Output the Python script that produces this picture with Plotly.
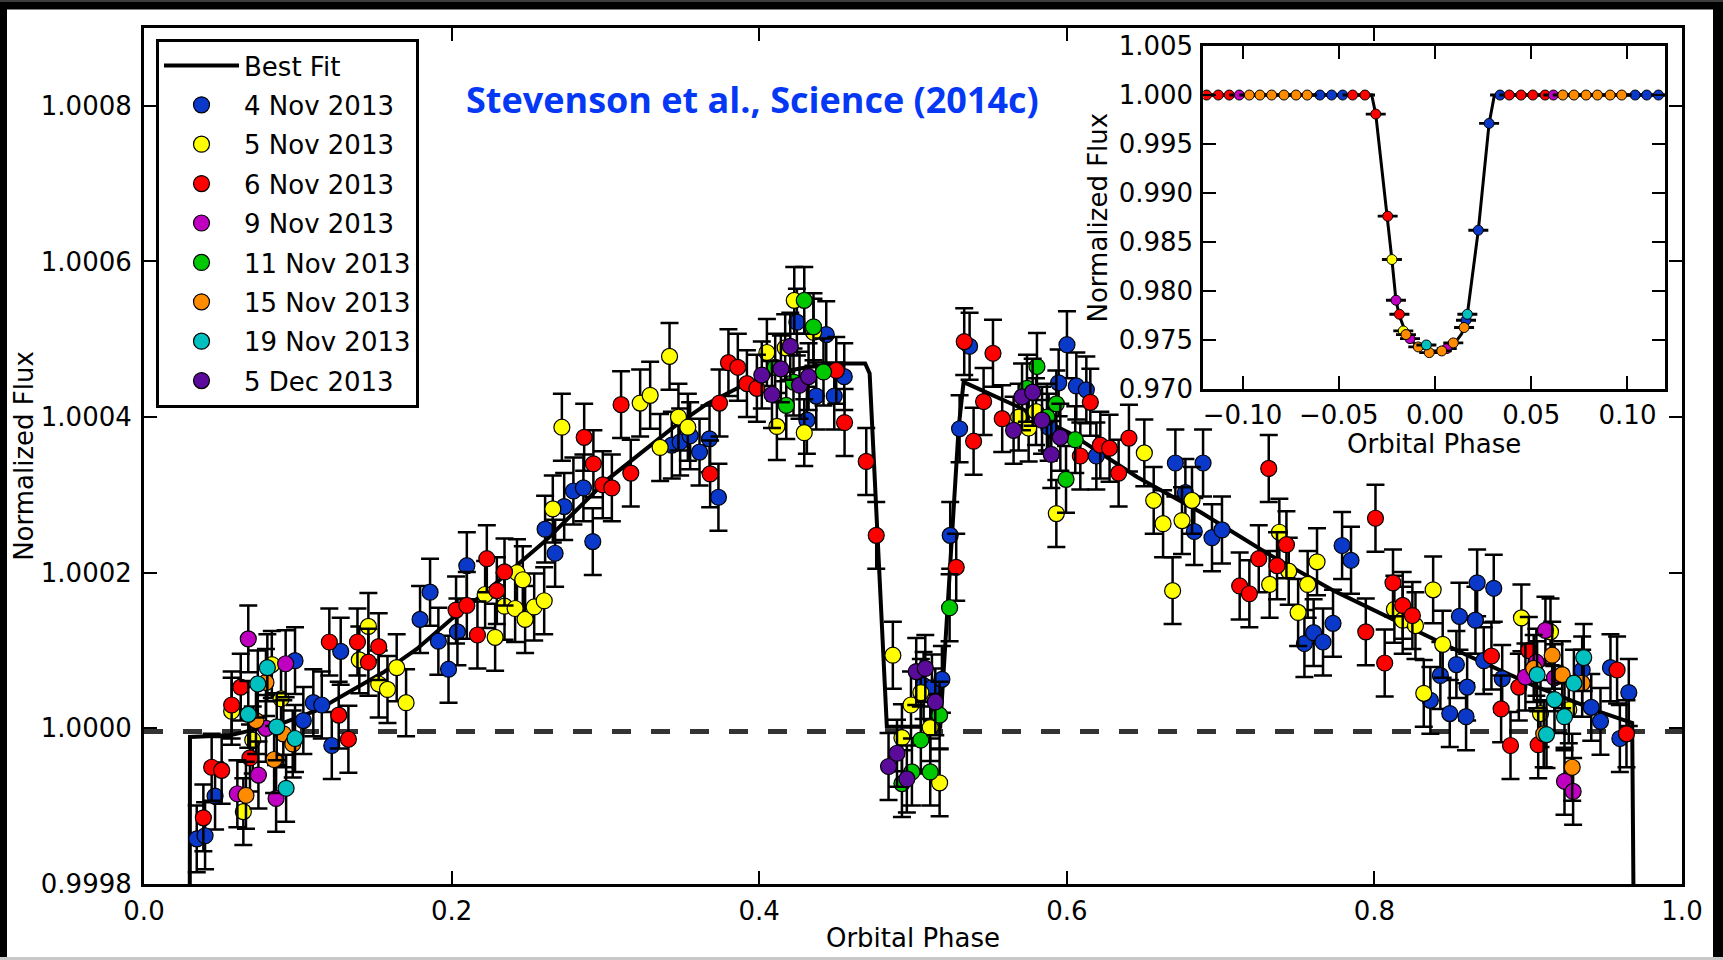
import plotly.graph_objects as go

# ---------------- main panel: best-fit model ----------------
fit_phase = [0.0297, 0.0299, 0.056, 0.069, 0.0906, 0.1123, 0.134, 0.1557, 0.1774, 0.199,
             0.2207, 0.2424, 0.2610, 0.3009, 0.3226, 0.3443, 0.366, 0.3876, 0.4093, 0.431,
             0.4527, 0.4689, 0.4718, 0.4743, 0.4765, 0.483, 0.5177, 0.5242, 0.5297, 0.5329,
             0.5676, 0.6023, 0.6457, 0.6868, 0.7302, 0.7735, 0.8168, 0.8602, 0.9036, 0.947,
             0.9676, 0.9688]
fit_flux = [0.99970, 0.999989, 0.999991, 0.999997, 1.000007, 1.000023, 1.000047, 1.000072,
            1.000102, 1.000139, 1.000173, 1.000210, 1.000241, 1.000319, 1.000353, 1.000387,
            1.000417, 1.000439, 1.000456, 1.000464, 1.000469, 1.000469, 1.000456, 1.000357,
            1.000246, 1.000002, 1.000002, 1.000207, 1.000387, 1.000445, 1.000414, 1.000379,
            1.000323, 1.000278, 1.000225, 1.000177, 1.000135, 1.000094, 1.000055, 1.000021,
            1.000007, 0.99970]

baseline_phase = [0.0, 1.0]
baseline_flux = [0.999996, 0.999996]

# ---------------- main panel: observations ----------------
nov04_phase = [0.0343, 0.0397, 0.0462, 0.0982, 0.1036, 0.1101, 0.1156, 0.1221, 0.1279, 0.1795,
               0.186, 0.1914, 0.198, 0.2038, 0.2099, 0.2608, 0.2673, 0.2732, 0.2792, 0.2857,
               0.2918, 0.3432, 0.3486, 0.3551, 0.3612, 0.3677, 0.3735, 0.4245, 0.431, 0.4371,
               0.4436, 0.4488, 0.4553, 0.5069, 0.5123, 0.5188, 0.5242, 0.5303, 0.5368, 0.5882,
               0.5947, 0.6001, 0.6062, 0.6127, 0.6192, 0.6706, 0.6771, 0.6829, 0.6886, 0.6944,
               0.7009, 0.7545, 0.7605, 0.7666, 0.7731, 0.779, 0.7848, 0.8364, 0.8429, 0.849,
               0.8533, 0.8553, 0.8596, 0.8603, 0.8657, 0.8668, 0.8711, 0.8776, 0.8831, 0.9351,
               0.941, 0.947, 0.9535, 0.9596, 0.9654]
nov04_flux = [0.999858, 0.999862, 0.999913, 1.000087, 1.000010, 1.000033, 1.000030, 0.999978,
              1.000099, 1.000140, 1.000175, 1.000112, 1.000076, 1.000124, 1.000209, 1.000256,
              1.000225, 1.000285, 1.000305, 1.000309, 1.000240, 1.000364, 1.000368, 1.000376,
              1.000355, 1.000372, 1.000297, 1.000522, 1.000396, 1.000427, 1.000506, 1.000427,
              1.000452, 1.000055, 1.000052, 1.000063, 1.000248, 1.000385, 1.000491, 1.000387,
              1.000444, 1.000493, 1.000440, 1.000435, 1.000350, 1.000341, 1.000303, 1.000253,
              1.000341, 1.000245, 1.000255, 1.000109, 1.000123, 1.000111, 1.000135, 1.000235,
              1.000216, 1.000036, 1.000068, 1.000019, 1.000082, 1.000144, 1.000015, 1.000053,
              1.000139, 1.000187, 1.000087, 1.000180, 1.000064, 1.000075, 1.000027, 1.000009,
              1.000078, 0.999987, 1.000046]

nov05_phase = [0.057, 0.0646, 0.0707, 0.0831, 0.0891, 0.14, 0.1459, 0.1526, 0.1583, 0.1643,
               0.1704, 0.2218, 0.2283, 0.2344, 0.2413, 0.2425, 0.2463, 0.2478, 0.2537, 0.2602,
               0.2658, 0.2717, 0.3226, 0.3291, 0.3356, 0.3417, 0.3475, 0.3536, 0.405, 0.4115,
               0.4169, 0.4228, 0.4293, 0.4353, 0.4869, 0.4928, 0.4987, 0.5051, 0.5112, 0.5173,
               0.5687, 0.5752, 0.58, 0.5932, 0.6504, 0.6565, 0.6626, 0.6688, 0.6749, 0.6814,
               0.7319, 0.7382, 0.7443, 0.7504, 0.7566, 0.7627, 0.813, 0.8184, 0.8267, 0.8321,
               0.8382, 0.8444, 0.8956, 0.908, 0.9145, 0.9264]
nov05_flux = [1.000022, 0.999893, 0.999985, 1.000082, 1.000038, 1.000088, 1.000131, 1.000057,
              1.000050, 1.000078, 1.000033, 1.000172, 1.000117, 1.000157, 1.000154, 1.000200,
              1.000191, 1.000140, 1.000156, 1.000164, 1.000282, 1.000387, 1.000418, 1.000428,
              1.000361, 1.000478, 1.000400, 1.000387, 1.000483, 1.000388, 1.000489, 1.000550,
              1.000380, 1.000509, 1.000094, 0.999988, 1.000030, 1.000046, 1.000001, 0.999930,
              1.000400, 1.000386, 1.000407, 1.000276, 1.000354, 1.000293, 1.000263, 1.000177,
              1.000267, 1.000293, 1.000185, 1.000252, 1.000202, 1.000149, 1.000185, 1.000214,
              1.000153, 1.000139, 1.000132, 1.000045, 1.000178, 1.000108, 1.000142, 1.000019,
              1.000124, 1.000024]

nov06_phase = [0.0386, 0.044, 0.0505, 0.057, 0.0629, 0.0689, 0.1205, 0.1266, 0.1329, 0.1388,
               0.1459, 0.1526, 0.2029, 0.2099, 0.2168, 0.2229, 0.2294, 0.2344, 0.2862, 0.2922,
               0.2983, 0.3042, 0.3102, 0.3165, 0.3681, 0.3742, 0.38, 0.3861, 0.392, 0.3985,
               0.4501, 0.4555, 0.4696, 0.4761, 0.5281, 0.5333, 0.5394, 0.5459, 0.552, 0.558,
               0.6088, 0.6153, 0.6218, 0.6278, 0.6337, 0.6404, 0.7124, 0.7187, 0.7248, 0.7313,
               0.7367, 0.7428, 0.7944, 0.8007, 0.8067, 0.8121, 0.8184, 0.8247, 0.8761, 0.8824,
               0.8885, 0.8939, 0.9004, 0.9065, 0.9578, 0.9639]
nov06_flux = [0.999885, 0.999950, 0.999946, 1.000030, 1.000053, 0.999962, 1.000111, 1.000017,
              0.999986, 1.000111, 1.000085, 1.000105, 1.000152, 1.000158, 1.000120, 1.000218,
              1.000177, 1.000201, 1.000374, 1.000340, 1.000313, 1.000309, 1.000416, 1.000328,
              1.000327, 1.000418, 1.000470, 1.000464, 1.000443, 1.000437, 1.000460, 1.000393,
              1.000343, 1.000248, 1.000207, 1.000497, 1.000369, 1.000420, 1.000482, 1.000398,
              1.000350, 1.000419, 1.000364, 1.000360, 1.000328, 1.000373, 1.000183, 1.000173,
              1.000218, 1.000334, 1.000209, 1.000236, 1.000124, 1.000270, 1.000084, 1.000187,
              1.000158, 1.000145, 1.000093, 1.000025, 0.999978, 1.000053, 1.000100, 0.999979,
              1.000075, 0.999993]

nov09_phase = [0.0607, 0.0678, 0.0744, 0.0793, 0.0859, 0.0921, 0.8982, 0.9053, 0.9112, 0.9171,
               0.9236, 0.9292]
nov09_flux = [0.999916, 1.000115, 0.999940, 1.000000, 0.999910, 1.000083, 1.000066, 1.000085,
              1.000126, 1.000065, 0.999932, 0.999919]

nov11_phase = [0.4104, 0.4176, 0.4223, 0.4293, 0.4353, 0.4418, 0.4928, 0.4993, 0.5051, 0.5112,
               0.5173, 0.5238, 0.5741, 0.5806, 0.5871, 0.5932, 0.5995, 0.6055]
nov11_flux = [1.000464, 1.000415, 1.000445, 1.000550, 1.000516, 1.000458, 0.999929, 0.999944,
              0.999985, 0.999944, 1.000017, 1.000155, 1.000437, 1.000465, 1.000400, 1.000417,
              1.000320, 1.000371]

nov15_phase = [0.0663, 0.0728, 0.0793, 0.0846, 0.0906, 0.0967, 0.9036, 0.9101, 0.9156, 0.9221,
               0.9286, 0.9351]
nov15_flux = [0.999914, 1.000010, 1.000059, 0.999960, 0.999993, 0.999980, 1.000077, 0.999993,
              1.000094, 1.000069, 0.999950, 1.000058]

nov19_phase = [0.0678, 0.074, 0.0802, 0.0863, 0.0924, 0.0982, 0.9058, 0.9119, 0.9171, 0.9236,
               0.9297, 0.9361]
nov19_flux = [1.000018, 1.000057, 1.000078, 1.000002, 0.999923, 0.999987, 1.000069, 0.999992,
              1.000037, 1.000015, 1.000058, 1.000091]

dec05_phase = [0.4017, 0.4083, 0.4141, 0.4202, 0.4262, 0.4321, 0.4841, 0.4896, 0.496, 0.5021,
               0.508, 0.5145, 0.5654, 0.5709, 0.5778, 0.5839, 0.5899, 0.5958]
dec05_flux = [1.000454, 1.000429, 1.000462, 1.000491, 1.000441, 1.000452, 0.999951, 0.999968,
              0.999935, 1.000073, 1.000077, 1.000034, 1.000383, 1.000426, 1.000432, 1.000396,
              1.000352, 1.000374]

series_names = ["4 Nov 2013", "5 Nov 2013", "6 Nov 2013", "9 Nov 2013",
                "11 Nov 2013", "15 Nov 2013", "19 Nov 2013", "5 Dec 2013"]
series_colors = ["#0a38c8", "#ffff00", "#ff0000", "#c000c0",
                 "#00c800", "#ff8c00", "#00c0c0", "#5b0b99"]
series_err = [43e-6, 43e-6, 43e-6, 43e-6, 43e-6, 43e-6, 43e-6, 43e-6]
main_phase = [nov04_phase, nov05_phase, nov06_phase, nov09_phase,
              nov11_phase, nov15_phase, nov19_phase, dec05_phase]
main_flux = [nov04_flux, nov05_flux, nov06_flux, nov09_flux,
             nov11_flux, nov15_flux, nov19_flux, dec05_flux]

# ---------------- inset: transit ----------------
inset_fit_phase = [-0.125, -0.0329, -0.0308, -0.0277, -0.0246, -0.0224, -0.0203, -0.0185,
                   -0.0147, -0.0095, 0.0, 0.0095, 0.0139, 0.0168, 0.0225, 0.0281, 0.0307,
                   0.032, 0.125]
inset_fit_flux = [1.0, 1.0, 0.99806, 0.99268, 0.98765, 0.98323, 0.97908, 0.9775, 0.97551,
                  0.97442, 0.97381, 0.97449, 0.97568, 0.97765, 0.98622, 0.99711, 0.99983,
                  1.0, 1.0]

in_blue_phase = [-0.0598, -0.0537, -0.048, 0.0161, 0.0225, 0.0281, 0.0338, 0.104, 0.11, 0.1161]
in_blue_flux = [1.0, 1.0, 1.0, 0.97704, 0.98622, 0.99711, 1.0, 1.0, 1.0, 1.0]
in_yellow_phase = [-0.0224, -0.0165]
in_yellow_flux = [0.98323, 0.97595]
in_red_phase = [-0.1187, -0.1126, -0.1069, -0.0428, -0.0364, -0.0308, -0.0246, -0.0185,
                0.0386, 0.0447, 0.0508, 0.0572]
in_red_flux = [1.0, 1.0, 1.0, 1.0, 1.0, 0.99806, 0.98765, 0.97765, 1.0, 1.0, 1.0, 1.0]
in_mag_phase = [-0.1017, -0.0203, -0.013, 0.0061, 0.0615]
in_mag_flux = [1.0, 0.97908, 0.97517, 0.97415, 1.0]
in_green_phase = []
in_green_flux = []
in_orange_phase = [-0.0965, -0.091, -0.0849, -0.0785, -0.0722, -0.0664, -0.0151, -0.0087,
                   -0.003, 0.0035, 0.0095, 0.0151, 0.0664, 0.0722, 0.0785, 0.0844, 0.091, 0.097]
in_orange_flux = [1.0, 1.0, 1.0, 1.0, 1.0, 1.0, 0.97558, 0.97432, 0.97374, 0.97391, 0.97473,
                  0.9763, 1.0, 1.0, 1.0, 1.0, 1.0, 1.0]
in_cyan_phase = [-0.0045, 0.0168]
in_cyan_flux = [0.97452, 0.97765]
in_purple_phase = []
in_purple_flux = []
inset_phase = [in_blue_phase, in_yellow_phase, in_red_phase, in_mag_phase,
               in_green_phase, in_orange_phase, in_cyan_phase, in_purple_phase]
inset_flux = [in_blue_flux, in_yellow_flux, in_red_flux, in_mag_flux,
              in_green_flux, in_orange_flux, in_cyan_flux, in_purple_flux]

# ---------------- layout geometry (pixels) ----------------
W, H = 1723, 960
ML, MR, MT, MB = 144, 41, 28, 76
PW, PH = W - ML - MR, H - MT - MB


def px(x):
    return (x - ML) / PW


def py(y):
    return (H - MB - y) / PH


FONT = "DejaVu Sans"
fig = go.Figure()

fig.add_trace(go.Scatter(x=baseline_phase, y=baseline_flux, mode="lines",
                         line=dict(color="#333333", width=5, dash="19px,20px"),
                         showlegend=False, hoverinfo="skip"))
fig.add_trace(go.Scatter(x=fit_phase, y=fit_flux, mode="lines", name="Best Fit",
                         legendgroup="fit", line=dict(color="black", width=4)))
for name, col, xs, ys, err in zip(series_names, series_colors, main_phase, main_flux, series_err):
    fig.add_trace(go.Scatter(
        x=xs, y=ys, mode="markers", name=name, legendgroup=name,
        marker=dict(color=col, size=16, line=dict(color="black", width=1.2)),
        error_y=dict(type="constant", value=err, color="black", thickness=2.5, width=9)))

fig.add_trace(go.Scatter(x=inset_fit_phase, y=inset_fit_flux, mode="lines",
                         xaxis="x2", yaxis="y2", showlegend=False,
                         line=dict(color="black", width=3)))
for name, col, xs, ys, err in zip(series_names, series_colors, inset_phase, inset_flux, series_err):
    if not xs:
        continue
    fig.add_trace(go.Scatter(
        x=xs, y=ys, mode="markers", xaxis="x2", yaxis="y2", showlegend=False,
        marker=dict(color=col, size=10, line=dict(color="black", width=1)),
        error_y=dict(type="constant", value=err, color="black", thickness=2, width=10)))

axis_common = dict(showgrid=False, zeroline=False, showline=True, linewidth=3,
                   linecolor="black", mirror="ticks", ticks="inside", ticklen=13,
                   tickwidth=2, tickcolor="black",
                   tickfont=dict(family=FONT, size=26, color="black"))

fig.update_layout(
    width=W, height=H,
    margin=dict(l=ML, r=MR, t=MT, b=MB, autoexpand=False),
    paper_bgcolor="black", plot_bgcolor="white",
    font=dict(family=FONT, size=26, color="black"),
    xaxis=dict(domain=[0, 1], range=[0, 1], tickvals=[0, 0.2, 0.4, 0.6, 0.8, 1.0],
               tickformat=".1f", ticklabelstandoff=2,
               title=dict(text="Orbital Phase", font=dict(size=26), standoff=4),
               **axis_common),
    yaxis=dict(domain=[0, 1], range=[0.9998, 1.0009], tick0=0.9998, dtick=0.0002,
               tickformat=".4f", ticklabelstandoff=4,
               title=dict(text="Normalized Flux", font=dict(size=26), standoff=0),
               **axis_common),
    xaxis2=dict(domain=[px(1203.3), px(1665)], range=[-0.1204, 0.1195], anchor="y2",
                tickvals=[-0.10, -0.05, 0.0, 0.05, 0.10], tickformat=".2f",
                title=dict(text="Orbital Phase", font=dict(size=26), standoff=6),
                **axis_common),
    yaxis2=dict(domain=[py(389.3), py(46)], range=[0.970, 1.005], anchor="x2",
                tickvals=[0.970, 0.975, 0.980, 0.985, 0.990, 0.995, 1.000, 1.005],
                tickformat=".3f", ticklabelstandoff=2,
                title=dict(text="Normalized Flux", font=dict(size=26), standoff=4),
                **axis_common),
    legend=dict(x=px(156), y=py(39), xanchor="left", yanchor="top",
                bgcolor="white", bordercolor="black", borderwidth=3,
                font=dict(family=FONT, size=26, color="black"),
                itemwidth=75, tracegroupgap=2.6),
    shapes=[
        dict(type="rect", xref="paper", yref="paper", x0=px(7), x1=px(1713),
             y0=py(957), y1=py(9.5), fillcolor="white", line=dict(width=0), layer="below"),
        dict(type="rect", xref="paper", yref="paper", x0=px(0), x1=px(W),
             y0=py(H), y1=py(957), fillcolor="#c8c8c8", line=dict(width=0), layer="below"),
        dict(type="rect", xref="paper", yref="paper", x0=px(0), x1=px(W),
             y0=py(2), y1=py(0), fillcolor="#3c3c3c", line=dict(width=0), layer="below"),
    ],
    annotations=[
        dict(text="<b>Stevenson et al., Science (2014c)</b>", xref="paper", yref="paper",
             x=px(752), y=py(99), xanchor="center", yanchor="middle", showarrow=False,
             font=dict(family="Open Sans", size=36, color="#0438f5")),
    ],
)

fig.write_html("out.html")
